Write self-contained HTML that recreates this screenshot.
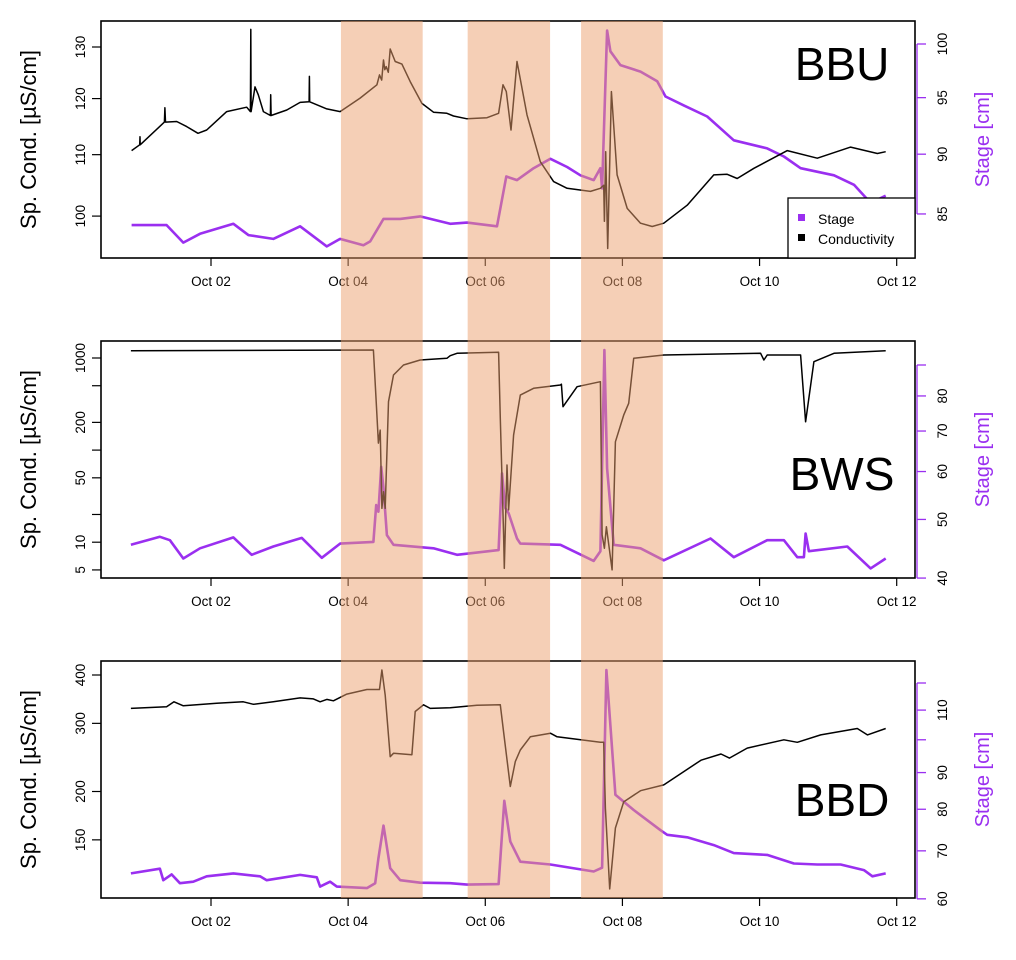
<!DOCTYPE html>
<html><head><meta charset="utf-8"><style>
html,body{margin:0;padding:0;background:#fff;}
svg{display:block;font-family:"Liberation Sans",Arial,sans-serif;}
</style></head><body>
<svg id="chart" width="1016" height="960" viewBox="0 0 1016 960" xmlns="http://www.w3.org/2000/svg"></svg>
<script>
// ---- data (time in days of October) ----
const xTickDays = [2,4,6,8,10,12];
const xTickLabels = ["Oct 02","Oct 04","Oct 06","Oct 08","Oct 10","Oct 12"];
const eventStarts = [3.895, 5.743, 7.397];
const eventEnds = [5.087, 6.945, 8.589];

const bbuCondT = [0.842,0.96,0.964,0.968,1.32,1.328,1.336,1.5,1.645,1.81,1.937,2.229,2.521,2.575,2.58,2.585,2.642,2.69,2.764,2.866,2.871,2.876,3.105,3.299,3.43,3.435,3.44,3.689,3.883,4.175,4.419,4.457,4.49,4.515,4.535,4.555,4.585,4.613,4.686,4.784,4.905,5.076,5.245,5.441,5.537,5.733,6.025,6.194,6.258,6.307,6.375,6.463,6.609,6.803,6.997,7.193,7.533,7.679,7.727,7.737,7.756,7.785,7.839,7.923,8.069,8.263,8.434,8.603,8.945,9.333,9.528,9.674,9.917,10.404,10.842,11.328,11.718,11.839];
const bbuCondV = [110.7,111.7,113.1,111.7,115.7,118.3,115.7,115.8,114.9,113.7,114.3,117.6,118.4,117.6,133.6,117.6,122.2,120.7,117.6,116.9,120.7,116.9,117.9,119.3,119.4,124.2,119.4,118.1,117.6,120.1,122.6,124.5,123.5,127.4,125.5,126.1,125,129.6,127.1,126.6,123.2,119.1,117.5,117.3,116.8,116.3,116.5,117.3,122.6,121.3,114.3,127.1,117.0,108.8,105.5,104.4,103.9,104.4,104.9,99.2,110.5,95.1,121.3,106.6,101.2,98.9,98.4,98.9,101.7,106.6,106.7,106.0,107.7,110.7,109.4,111.3,110.2,110.5];
const bbuStageT = [0.842,1.353,1.596,1.839,2.326,2.545,2.909,3.299,3.689,3.883,4.223,4.321,4.515,4.759,5.051,5.489,5.733,6.171,6.307,6.463,6.705,6.949,7.193,7.387,7.581,7.679,7.704,7.737,7.777,7.825,7.971,8.263,8.507,8.628,8.895,9.237,9.625,10.112,10.355,10.599,11.085,11.377,11.62,11.839];
const bbuStageV = [84.1,84.1,82.7,83.4,84.2,83.3,83.0,84.0,82.4,83.0,82.5,82.8,84.6,84.6,84.8,84.2,84.3,84.0,88.1,87.8,88.8,89.6,88.9,88.2,87.8,88.8,87.1,93.4,101.3,99.3,98.0,97.4,96.5,95.1,94.3,93.3,91.2,90.5,89.8,88.8,88.2,87.4,85.9,86.5];

const bwsCondT = [0.832,4.369,4.409,4.442,4.467,4.492,4.515,4.54,4.588,4.661,4.807,5.051,5.441,5.489,5.587,6.194,6.219,6.267,6.277,6.317,6.34,6.413,6.511,6.705,7.095,7.11,7.134,7.339,7.679,7.704,7.737,7.766,7.85,7.898,8.019,8.092,8.165,8.603,10.015,10.064,10.112,10.599,10.672,10.793,11.085,11.839];
const bwsCondV = [1200,1221,335,119,165,23.3,35.3,23.3,335,653,839,951,993,1059,1125,1153,221,12,5.2,68.9,22.4,146,396,469,509,520,296,488,553,12,8.6,14.7,5.0,123,240,322,993,1078,1125,951,1078,1078,203,912,1125,1200];
const bwsStageT = [0.832,1.255,1.401,1.596,1.839,2.326,2.594,2.909,3.324,3.616,3.883,4.369,4.409,4.442,4.482,4.515,4.565,4.661,5.245,5.587,6.194,6.244,6.292,6.34,6.463,6.511,7.095,7.581,7.679,7.737,7.777,7.873,8.263,8.603,9.285,9.625,10.112,10.355,10.55,10.647,10.672,10.72,11.28,11.62,11.839];
const bwsStageV = [45.4,46.8,46.2,43.1,44.8,46.7,43.7,45.1,46.6,43.2,45.6,45.9,52.8,51.5,61.1,56.3,47.1,45.4,44.8,43.7,44.5,59.6,52.2,51.2,46.5,45.6,45.4,42.7,44.3,95.3,60.7,45.4,44.8,42.8,46.5,43.3,46.2,46.2,43.3,43.3,47.4,44.3,45.1,41.5,43.1];

const bbdCondT = [0.832,1.353,1.46,1.596,2.083,2.471,2.618,2.909,3.299,3.493,3.591,3.689,3.785,3.981,4.273,4.457,4.492,4.54,4.613,4.661,4.93,4.978,5.099,5.197,5.489,5.879,6.219,6.267,6.365,6.438,6.511,6.657,6.949,7.047,7.679,7.727,7.752,7.815,7.898,8.019,8.263,8.603,9.146,9.438,9.56,9.82,10.355,10.55,10.891,11.426,11.572,11.839];
const bbdCondV = [328,331,341,333,338,341,336,341,349,347,341,346,343,357,367,367,412,355,246,251,249,322,335,328,329,334,335,285,206,239,256,277,283,277,268,268,181,112,161,188,201,208,241,250,244,259,272,268,280,291,280,291];
const bbdStageT = [0.832,1.255,1.304,1.426,1.547,1.742,1.937,2.326,2.715,2.813,3.299,3.543,3.591,3.737,3.835,4.273,4.394,4.442,4.515,4.613,4.759,5.051,5.489,5.733,6.194,6.277,6.365,6.511,6.949,7.581,7.704,7.766,7.898,8.165,8.555,8.653,8.945,9.333,9.625,10.112,10.501,10.842,11.182,11.522,11.645,11.839];
const bbdStageV = [65.1,66.1,63.7,64.9,63.1,63.4,64.5,65.1,64.5,63.7,64.8,64.3,62.4,63.4,62.4,62.1,63.1,68.3,75.9,66.2,63.7,63.2,63.1,62.8,62.9,82.2,72.1,67.6,67.0,65.5,66.3,125.1,83.8,79.8,74.8,73.7,73.1,71.3,69.5,69.1,67.2,67.0,67.0,65.8,64.5,65.1];

const bbuLeftTicks = [100,110,120,130];
const bbuRightTicks = [85,90,95,100];
const bbuRightLabels = ["85","90","95","100"];
const bwsLeftTicks = [5,10,20,50,100,200,500,1000];
const bwsLeftLabels = ["5","10","","50","","200","","1000"];
const bwsRightTicks = [40,50,60,70,80,90];
const bwsRightLabels = ["40","50","60","70","80",""];
const bbdLeftTicks = [150,200,300,400];
const bbdRightTicks = [60,70,80,90,100,110,120];
const bbdRightLabels = ["60","70","80","90","","110",""];

// ---- layout ----
const NS = "http://www.w3.org/2000/svg";
const svg = document.getElementById('chart');
const X0 = 101, X1 = 915;
function xs(t){ return 211 + (t-2)*68.57; }
function logScale(vTop, yTop, pxPerDec){ return v => yTop + pxPerDec*(Math.log10(vTop)-Math.log10(v)); }
function mk(tag, attrs, parent){ const e = document.createElementNS(NS, tag); for (const k in attrs) e.setAttribute(k, attrs[k]); (parent||svg).appendChild(e); return e; }
const PURPLE = "#9a2ff0";

const panels = [
  {key:'bbu', name:'BBU', top:21, bot:258, condT:bbuCondT, condV:bbuCondV, stT:bbuStageT, stV:bbuStageV,
   ly: logScale(130,47,1484), ry: logScale(100,44,2408),
   lt: bbuLeftTicks, ll: bbuLeftTicks.map(String), rt: bbuRightTicks, rl: bbuRightLabels, labelY:80, legend:true},
  {key:'bws', name:'BWS', top:341, bot:578, condT:bwsCondT, condV:bwsCondV, stT:bwsStageT, stV:bwsStageV,
   ly: logScale(1000,358,92.1), ry: logScale(90,365,605),
   lt: bwsLeftTicks, ll: bwsLeftLabels, rt: bwsRightTicks, rl: bwsRightLabels, labelY:490, legend:false},
  {key:'bbd', name:'BBD', top:661, bot:898, condT:bbdCondT, condV:bbdCondV, stT:bbdStageT, stV:bbdStageV,
   ly: logScale(400,675,387), ry: logScale(120,683,717),
   lt: bbdLeftTicks, ll: bbdLeftTicks.map(String), rt: bbdRightTicks, rl: bbdRightLabels, labelY:816, legend:false}
];

panels.forEach(p => {
  const g = mk('g', {});
  
  
  const clipId = 'clip-' + p.key;
  const cp = mk('clipPath', {id: clipId}, g);
  mk('rect', {x:X0, y:p.top, width:X1-X0, height:p.bot-p.top}, cp);

  const sp = p.stT.map((t,i)=>(i?'L':'M')+xs(t).toFixed(1)+','+p.ry(p.stV[i]).toFixed(1)).join(' ');
  const sl = mk('path', {d:sp, fill:'none', stroke:PURPLE, 'stroke-width':2.6, 'stroke-linejoin':'round', 'clip-path':'url(#'+clipId+')'}, g);
  
  
  const cpth = p.condT.map((t,i)=>(i?'L':'M')+xs(t).toFixed(1)+','+p.ly(p.condV[i]).toFixed(1)).join(' ');
  const cl = mk('path', {d:cpth, fill:'none', stroke:'#000', 'stroke-width':1.5, 'stroke-linejoin':'round', 'clip-path':'url(#'+clipId+')'}, g);
  
  

  const box = mk('rect', {x:X0, y:p.top, width:X1-X0, height:p.bot-p.top, fill:'none', stroke:'#000', 'stroke-width':1.6}, g);
  
  

  mk('line', {x1:xs(2), x2:xs(12), y1:p.bot, y2:p.bot, stroke:'#000', 'stroke-width':1.2}, g);
  xTickDays.forEach((d,i) => {
    mk('line', {x1:xs(d), x2:xs(d), y1:p.bot, y2:p.bot+8, stroke:'#000', 'stroke-width':1.2}, g);
    const tx = mk('text', {x:xs(d), y:p.bot+28, 'font-size':13.5, 'text-anchor':'middle', fill:'#000'}, g);
    tx.textContent = xTickLabels[i];
    
    
  });

  p.lt.forEach((v,i) => {
    const y = p.ly(v);
    mk('line', {x1:X0-9, x2:X0, y1:y, y2:y, stroke:'#000', 'stroke-width':1.2}, g);
    if (p.ll[i]) {
      const tx = mk('text', {x:0, y:0, 'font-size':13.5, 'text-anchor':'middle', fill:'#000', transform:'translate(85,'+y+') rotate(-90)'}, g);
      tx.textContent = p.ll[i];
      
      
    }
  });
  const lt = mk('text', {x:0, y:0, 'font-size':22, 'text-anchor':'middle', fill:'#000', transform:'translate(36,'+((p.top+p.bot)/2)+') rotate(-90)'}, g);
  lt.textContent = 'Sp. Cond. [µS/cm]';
  
  

  const ys = p.rt.map(p.ry);
  const AX = 917;
  mk('line', {x1:AX, x2:AX, y1:Math.min(...ys), y2:Math.max(...ys), stroke:PURPLE, 'stroke-width':1.3}, g);
  p.rt.forEach((v,i) => {
    const y = ys[i];
    mk('line', {x1:AX, x2:AX+9, y1:y, y2:y, stroke:PURPLE, 'stroke-width':1.3}, g);
    if (p.rl[i]) {
      const tx = mk('text', {x:0, y:0, 'font-size':13.5, 'text-anchor':'middle', fill:'#000', transform:'translate(947,'+y+') rotate(-90)'}, g);
      tx.textContent = p.rl[i];
      
      
    }
  });
  const rt = mk('text', {x:0, y:0, 'font-size':20, 'text-anchor':'middle', fill:PURPLE, transform:'translate(989,'+((p.top+p.bot)/2)+') rotate(-90)'}, g);
  rt.textContent = 'Stage [cm]';
  
  

  const sl2 = mk('text', {x:842, y:p.labelY, 'font-size':46, 'text-anchor':'middle', fill:'#000'}, g);
  sl2.textContent = p.name;
  
  

  if (p.legend) {
    const lg = mk('g', {}, g);
    
    
    mk('rect', {x:788, y:198, width:127, height:60, fill:'#fff', stroke:'#000', 'stroke-width':1.3}, lg);
    mk('rect', {x:798, y:214, width:7, height:7, fill:PURPLE}, lg);
    const t1 = mk('text', {x:818, y:224, 'font-size':14, fill:'#000'}, lg);
    t1.textContent = 'Stage';
    
    
    mk('rect', {x:798, y:234, width:7, height:7, fill:'#000'}, lg);
    const t2 = mk('text', {x:818, y:244, 'font-size':14, fill:'#000'}, lg);
    t2.textContent = 'Conductivity';
    
    
  }
});

eventStarts.forEach((s,i) => {
  const r = mk('rect', {x:xs(s), y:21, width:xs(eventEnds[i])-xs(s), height:898-21, fill:'rgb(236,160,110)', 'fill-opacity':0.5});
  
  
});
</script>
</body></html>
